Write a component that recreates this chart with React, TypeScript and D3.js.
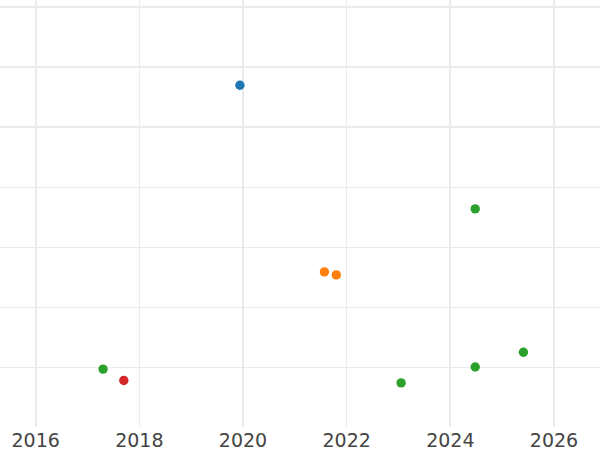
import React from "react";
import * as d3 from "d3";

const categories = ["blue", "orange", "green", "red"];
const seriesColors = ["#1f77b4", "#ff7f0e", "#2ca02c", "#d62728"];

const pointCategory = ["blue", "orange", "orange", "green", "green", "red", "green", "green", "green"];
const pointYears = [2019.94, 2021.57, 2021.8, 2024.48, 2017.3, 2017.7, 2023.05, 2024.48, 2025.41];
const pointValues = [5.7, 2.59, 2.54, 3.64, 0.97, 0.78, 0.74, 1.005, 1.25];

const xTicks = [2016, 2018, 2020, 2022, 2024, 2026];
const yTicks = [1, 2, 3, 4, 5, 6, 7];
const thickX = [2016, 2020, 2024, 2026];
const thickY = [5, 6, 7];

export default function App() {
  const W = 600;
  const H = 450;
  const plotBottom = 427.3;
  const x = d3.scaleLinear().domain([2016, 2026]).range([35.7, 554]);
  const y = d3.scaleLinear().domain([0, 7]).range([plotBottom, plotBottom - 420]);
  const color = d3.scaleOrdinal<string, string>().domain(categories).range(seriesColors);
  const pts = pointYears.map((yr, i) => ({ yr, v: pointValues[i], c: pointCategory[i] }));
  const gridColor = "#ebebeb";

  return (
    <svg
      width={W}
      height={H}
      style={{ position: "absolute", left: 0, top: 0, background: "#fff" }}
      fontFamily="DejaVu Sans, sans-serif"
    >
      <rect x={0} y={0} width={W} height={H} fill="#fff" />
      {yTicks.map((t) => {
        const thick = thickY.includes(t);
        const py = thick ? Math.round(y(t)) : Math.floor(y(t)) + 0.5;
        return (
          <line key={"gy" + t} x1={0} x2={W} y1={py} y2={py} stroke={gridColor} strokeWidth={thick ? 2 : 1} />
        );
      })}
      {xTicks.map((t) => {
        const thick = thickX.includes(t);
        const px = thick ? Math.round(x(t)) : Math.floor(x(t)) + 0.5;
        return (
          <line key={"gx" + t} x1={px} x2={px} y1={0} y2={427} stroke={gridColor} strokeWidth={thick ? 2 : 1} />
        );
      })}
      {pts.map((p, i) => (
        <circle key={"p" + i} cx={x(p.yr)} cy={y(p.v)} r={4.7} fill={color(p.c)} />
      ))}
      {xTicks.map((t) => (
        <text key={"tx" + t} x={x(t)} y={447} textAnchor="middle" fontSize={19} fill="#444">
          {t}
        </text>
      ))}
    </svg>
  );
}
